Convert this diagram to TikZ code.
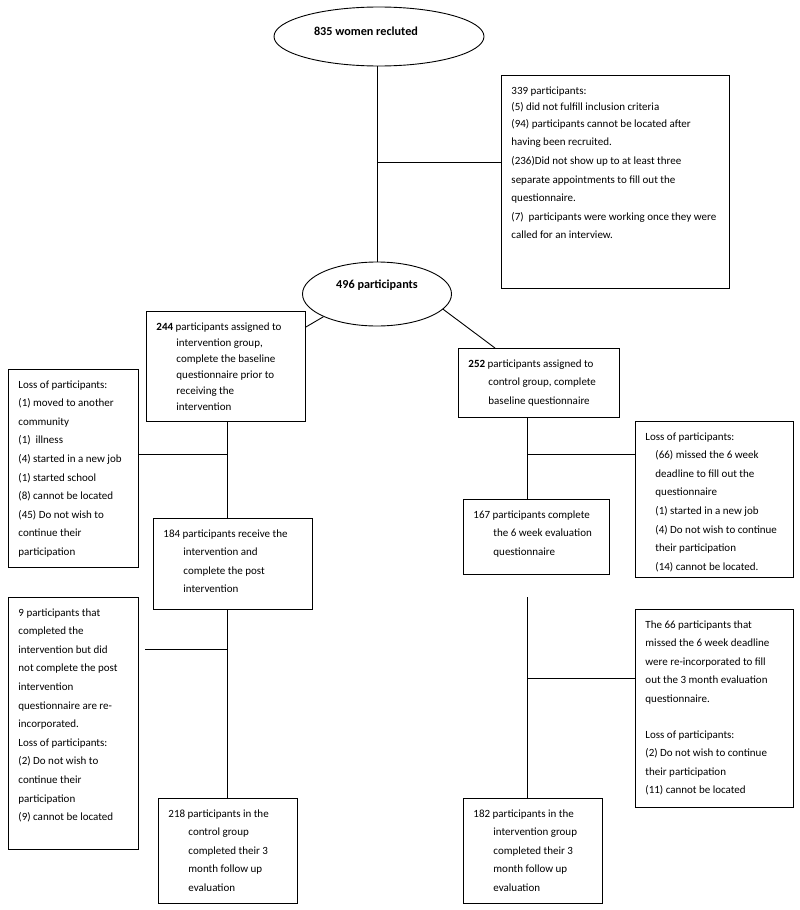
\documentclass[tikz,border=0pt]{standalone}
\usepackage{fontspec}
\setmainfont{Carlito}
\usetikzlibrary{shapes.geometric}
\newcommand{\boxtxt}[4]{\parbox[t][#2pt][t]{#1pt}{\hangindent=#3pt\hangafter=1 #4}}

\begin{document}
\begin{tikzpicture}[x=1pt, y=-1pt, line width=0.9pt]
	\tikzstyle{every node}=[font=\fontsize{11}{18.6}\selectfont]
	\tikzstyle{oval}=[draw, ellipse, inner sep=1pt, font=\fontsize{12.2}{14}\selectfont\bfseries]
	\tikzstyle{panel}=[draw, anchor=north west, inner xsep=10pt, inner ysep=11pt]
	\useasboundingbox (0,0) rectangle (800,910);
	% the two ovals
	\node[oval, minimum width=210pt, minimum height=59pt, text depth=11pt] (R) at (379,36.5) {835 women recluted\hspace*{26pt}};
	\node[oval, minimum width=149pt, minimum height=64pt, text depth=20pt] (P) at (377,294) {496 participants};
	\node[panel] (X1) at (501,75) {\boxtxt{208}{191}{0}{339 participants:\\[-2pt] (5) did not fulfill inclusion criteria\\[-2pt] (94) participants cannot be located after\\ having been recruited.\\ (236)Did not show up to at least three\\ separate appointments to fill out the\\ questionnaire.\\ (7)~ participants were working once they were\\ called for an interview.}};
	% intervention side
	\node[panel, font=\fontsize{11}{16}\selectfont] (I0) at (146,311) {\boxtxt{139}{88}{20}{\textbf{244} participants assigned to\\ intervention group,\\ complete the baseline\\ questionnaire prior to\\ receiving the\\ intervention}};
	\node[panel] (LI1) at (8,369) {\boxtxt{110}{176}{0}{Loss of participants:\\ (1) moved to another\\ community\\ (1)~ illness\\ (4) started in a new job\\ (1) started school\\ (8) cannot be located\\ (45) Do not wish to\\ continue their\\ participation}};
	\node[panel] (I1) at (153,518) {\boxtxt{139}{69}{20}{184 participants receive the\\ intervention and\\ complete the post\\ intervention}};
	\node[panel] (LI2) at (8,597) {\boxtxt{110}{230}{0}{9 participants that\\ completed the\\ intervention but did\\ not complete the post\\ intervention\\ questionnaire are re-\\ incorporated.\\ Loss of participants:\\ (2) Do not wish to\\ continue their\\ participation\\ (9) cannot be located}};
	\node[panel] (I2) at (158,798) {\boxtxt{119}{83}{20}{218 participants in the\\ control group\\ completed their 3\\ month follow up\\ evaluation}};
	% control side
	\node[panel] (C0) at (458,348) {\boxtxt{141}{47}{20}{\textbf{252} participants assigned to\\ control group, complete\\ baseline questionnaire}};
	\node[panel] (LC1) at (635,421) {\boxtxt{138}{134}{10}{Loss of participants:\\ (66) missed the 6 week\\ deadline to fill out the\\ questionnaire\\ (1) started in a new job\\ (4) Do not wish to continue\\ their participation\\ (14) cannot be located.}};
	\node[panel] (C1) at (463,499) {\boxtxt{126}{53}{20}{167 participants complete\\ the 6 week evaluation\\ questionnaire}};
	\node[panel] (LC2) at (635,609) {\boxtxt{138}{176}{0}{The 66 participants that\\ missed the 6 week deadline\\ were re-incorporated to fill\\ out the 3 month evaluation\\ questionnaire.\\[17pt] Loss of participants:\\ (2) Do not wish to continue\\ their participation\\ (11) cannot be located}};
	\node[panel] (C2) at (463,798) {\boxtxt{119}{83}{20}{182 participants in the\\ intervention group\\ completed their 3\\ month follow up\\ evaluation}};
	% junctions
	\coordinate (t1) at (377,162);
	\coordinate (t2) at (227,454);
	\coordinate (t3) at (227,649);
	\coordinate (t4) at (527,454);
	\coordinate (t5) at (527,678);
	\coordinate (t6) at (527,597);
	\draw (R.south -| t1) -- (P.north -| t1);
	\draw (t1) -- (X1.west |- t1);
	\draw (P.203) -- ([yshift=-16pt]I0.north east);
	\draw (P.347) -- ([xshift=37pt]C0.north west);
	\draw (I0.south -| t2) -- (I1.north -| t2);
	\draw (t2) -- (LI1.east |- t2);
	\draw (I1.south -| t3) -- (I2.north -| t3);
	\draw[shorten >=6pt] (t3) -- (LI2.east |- t3);
	\draw (C0.south -| t4) -- (C1.north -| t4);
	\draw (t4) -- (LC1.west |- t4);
	\draw (t6) -- (C2.north -| t6);
	\draw (t5) -- (LC2.west |- t5);
\end{tikzpicture}
\end{document}
